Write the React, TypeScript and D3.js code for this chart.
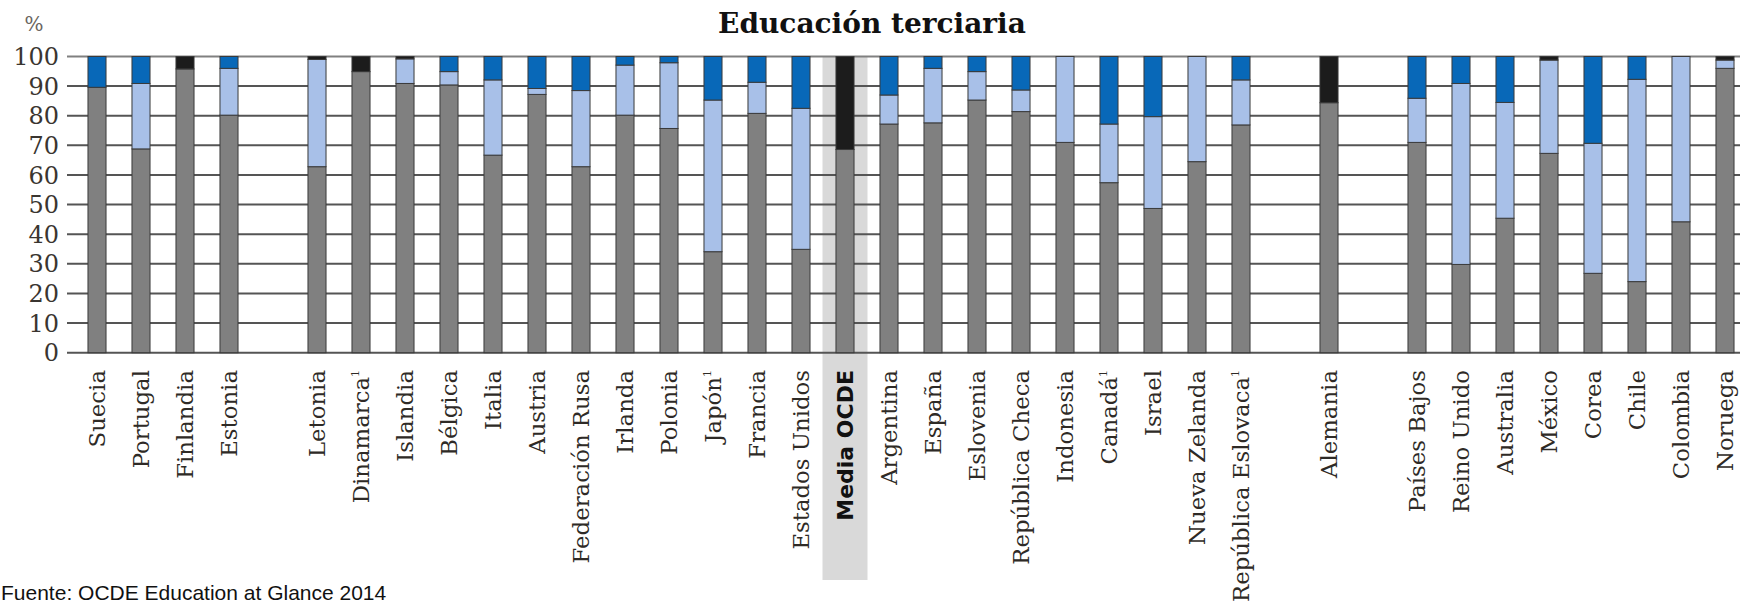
import React from "react";
import * as d3 from "d3";

const title = "Educación terciaria";
const source = "Fuente: OCDE Education at Glance 2014";
const unitLabel = "%";

// "" marks an empty slot in the category axis
const categories = [
  "Suecia", "Portugal", "Finlandia", "Estonia", "",
  "Letonia", "Dinamarca", "Islandia", "Bélgica", "Italia", "Austria",
  "Federación Rusa", "Irlanda", "Polonia", "Japón", "Francia", "Estados Unidos",
  "Media OCDE",
  "Argentina", "España", "Eslovenia", "República Checa", "Indonesia", "Canadá",
  "Israel", "Nueva Zelanda", "República Eslovaca", "",
  "Alemania", "",
  "Países Bajos", "Reino Unido", "Australia", "México", "Corea", "Chile",
  "Colombia", "Noruega",
];

const footnoted = ["Dinamarca", "Japón", "Canadá", "República Eslovaca"];
const highlighted = "Media OCDE";

const grayValues = [
  89.6, 68.8, 95.8, 80.2, 0,
  62.8, 94.9, 90.9, 90.4, 66.7, 87.2,
  62.8, 80.2, 75.7, 34.1, 80.8, 34.9,
  68.6,
  77.2, 77.6, 85.3, 81.4, 71.0, 57.4,
  48.7, 64.5, 76.9, 0,
  84.4, 0,
  71.0, 29.8, 45.4, 67.3, 26.8, 24.0,
  44.2, 96.0,
];
const lightBlueValues = [
  0, 22.1, 0, 15.8, 0,
  36.2, 0, 8.3, 4.5, 25.4, 2.0,
  25.7, 16.9, 22.2, 51.2, 10.5, 47.6,
  0,
  9.8, 18.4, 9.6, 7.3, 29.0, 19.8,
  31.0, 35.5, 15.2, 0,
  0, 0,
  14.9, 61.1, 39.1, 31.5, 43.9, 68.3,
  55.8, 2.8,
];
const blueValues = [
  10.4, 9.1, 0, 4.0, 0,
  0, 0, 0, 5.1, 7.9, 10.8,
  11.5, 2.9, 2.1, 14.7, 8.7, 17.5,
  0,
  13.0, 4.0, 5.1, 11.3, 0, 22.8,
  20.3, 0, 7.9, 0,
  0, 0,
  14.1, 9.1, 15.5, 0, 29.3, 7.7,
  0, 0,
];
const blackValues = [
  0, 0, 4.2, 0, 0,
  1.0, 5.1, 0.8, 0, 0, 0,
  0, 0, 0, 0, 0, 0,
  31.4,
  0, 0, 0, 0, 0, 0,
  0, 0, 0, 0,
  15.6, 0,
  0, 0, 0, 1.2, 0, 0,
  0, 1.2,
];

const yTicks = [0, 10, 20, 30, 40, 50, 60, 70, 80, 90, 100];

const seriesKeys = ["gray", "lightBlue", "blue", "black"];
const seriesColors: Record<string, string> = {
  gray: "#808080",
  lightBlue: "#a8c0e8",
  blue: "#0868b8",
  black: "#1c1c1c",
};

const W = 1740;
const H = 606;

export default function App() {
  const rows = categories.map((c, i) => ({
    idx: String(i),
    name: c,
    gray: grayValues[i],
    lightBlue: lightBlueValues[i],
    blue: blueValues[i],
    black: blackValues[i],
  }));

  const x = d3
    .scaleBand<string>()
    .domain(rows.map((r) => r.idx))
    .range([75, 1747])
    .paddingInner(0.59)
    .paddingOuter(0.295);

  const y = d3.scaleLinear().domain([0, 100]).range([352.7, 56.5]);

  const stack = d3.stack<any>().keys(seriesKeys);
  const layers = stack(rows as any);

  const serif = "'DejaVu Serif', serif";
  const labelTop = 370;

  return (
    <svg
      width={W}
      height={H}
      style={{ position: "absolute", left: 0, top: 0, background: "#fff" }}
    >
      <rect x={0} y={0} width={W} height={H} fill="#fff" />
      {/* highlight band */}
      {rows
        .filter((r) => r.name === highlighted)
        .map((r) => {
          const cx = (x(r.idx) as number) + x.bandwidth() / 2;
          const w = x.step() + 1;
          return (
            <rect
              key="hl"
              x={cx - w / 2}
              y={y(100)}
              width={w}
              height={580 - y(100)}
              fill="#d9d9d9"
            />
          );
        })}
      {/* grid */}
      {yTicks.map((t) => (
        <line
          key={t}
          x1={67}
          x2={W}
          y1={y(t)}
          y2={y(t)}
          stroke={t === 100 ? "#808080" : "#555555"}
          strokeWidth={2}
        />
      ))}
      {/* y tick labels */}
      {yTicks.map((t) => (
        <text
          key={"l" + t}
          x={59}
          y={y(t)}
          dy="0.36em"
          textAnchor="end"
          fontFamily={serif}
          fontSize={24}
          fill="#3a3530"
        >
          {t}
        </text>
      ))}
      <text
        x={34}
        y={31}
        textAnchor="middle"
        fontFamily={serif}
        fontSize={20}
        fill="#6a6560"
      >
        {unitLabel}
      </text>
      {/* bars */}
      {layers.map((layer) => (
        <g key={layer.key} fill={seriesColors[layer.key]}>
          {layer.map((d, i) => {
            const h = y(d[0]) - y(d[1]);
            if (!rows[i].name || h <= 0) return null;
            return (
              <rect
                key={i}
                x={x(rows[i].idx)}
                y={y(d[1])}
                width={x.bandwidth()}
                height={h}
                stroke="#3a3a3a"
                strokeWidth={1}
              />
            );
          })}
        </g>
      ))}
      {/* category labels */}
      {rows.map((r) => {
        if (!r.name) return null;
        const cx = (x(r.idx) as number) + x.bandwidth() / 2;
        const isHl = r.name === highlighted;
        return (
          <text
            key={"c" + r.idx}
            transform={`translate(${cx + 8},${labelTop}) rotate(-90)`}
            textAnchor="end"
            fontFamily={isHl ? "'DejaVu Sans', sans-serif" : serif}
            fontWeight={isHl ? "bold" : "normal"}
            fontSize={isHl ? 22 : 22.8}
            fill={isHl ? "#111" : "#2e2a26"}
          >
            {r.name}
            {footnoted.includes(r.name) ? (
              <tspan fontSize={11} dy={-10}>
                1
              </tspan>
            ) : null}
          </text>
        );
      })}
      {/* title */}
      <text
        x={872}
        y={33}
        textAnchor="middle"
        fontFamily={serif}
        fontWeight="bold"
        fontSize={28}
        fill="#111"
      >
        {title}
      </text>
      {/* source */}
      <text
        x={1}
        y={600}
        fontFamily="'Liberation Sans', Arial, sans-serif"
        fontSize={21}
        fill="#111"
      >
        {source}
      </text>
    </svg>
  );
}
